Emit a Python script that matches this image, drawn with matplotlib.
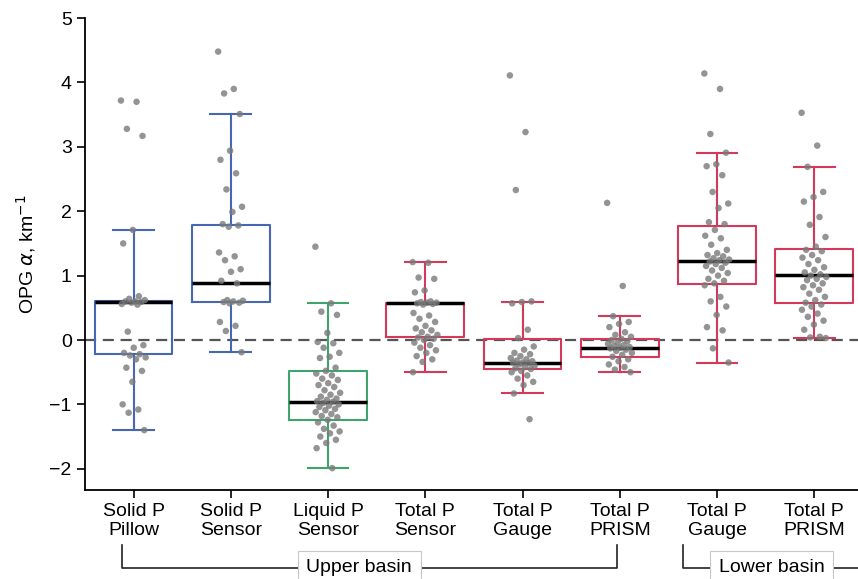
import matplotlib
matplotlib.use("Agg")
import matplotlib.pyplot as plt
import matplotlib.transforms as mtransforms
import numpy as np

plt.rcParams['font.family'] = ['Liberation Sans', 'DejaVu Sans']

# categories (two-line tick labels)
labels = ["Solid P\nPillow", "Solid P\nSensor", "Liquid P\nSensor", "Total P\nSensor",
          "Total P\nGauge", "Total P\nPRISM", "Total P\nGauge", "Total P\nPRISM"]

# box statistics
q1s = [-0.21, 0.59, -1.24, 0.04, -0.455, -0.26, 0.87, 0.57]
meds = [0.59, 0.89, -0.96, 0.58, -0.35, -0.125, 1.23, 1.01]
q3s = [0.60, 1.79, -0.48, 0.58, 0.01, 0.01, 1.77, 1.42]
whislo = [-1.40, -0.19, -1.99, -0.50, -0.83, -0.50, -0.35, 0.03]
whishi = [1.71, 3.51, 0.57, 1.21, 0.59, 0.37, 2.91, 2.69]

# individual OPG values per group
g0 = [3.72, 3.70, 3.28, 3.17, 1.71, 1.50, 0.68, 0.64, 0.62, 0.60, 0.60, 0.59, 0.58, 0.56,
      0.55, 0.13, -0.08, -0.12, -0.20, -0.22, -0.24, -0.27, -0.30, -0.43, -0.48, -0.65,
      -1.0, -1.08, -1.13, -1.4]
g1 = [4.48, 3.90, 3.83, 3.51, 2.94, 2.80, 2.59, 2.34, 2.07, 1.99, 1.80, 1.78, 1.76, 1.36,
      1.30, 1.24, 1.10, 1.06, 0.92, 0.88, 0.62, 0.61, 0.60, 0.59, 0.58, 0.57, 0.28, 0.22,
      0.14, -0.19]
g2 = [1.45, 0.57, 0.44, 0.39, 0.11, -0.03, -0.05, -0.12, -0.20, -0.26, -0.28, -0.43, -0.48,
      -0.52, -0.55, -0.60, -0.62, -0.67, -0.70, -0.73, -0.78, -0.82, -0.85, -0.88, -0.91,
      -0.93, -0.95, -0.96, -0.98, -1.0, -1.02, -1.04, -1.07, -1.09, -1.12, -1.15, -1.18,
      -1.20, -1.24, -1.28, -1.33, -1.38, -1.42, -1.45, -1.50, -1.55, -1.60, -1.68, -1.99]
g3 = [1.21, 1.20, 0.97, 0.95, 0.77, 0.74, 0.60, 0.59, 0.58, 0.58, 0.57, 0.56, 0.55, 0.42,
      0.38, 0.33, 0.28, 0.22, 0.18, 0.15, 0.12, 0.08, 0.05, 0.04, 0.02, 0.0, -0.04, -0.08,
      -0.12, -0.16, -0.2, -0.25, -0.3, -0.34, -0.5]
g4 = [4.11, 3.23, 2.33, 0.60, 0.59, 0.57, 0.16, 0.03, -0.10, -0.15, -0.20, -0.22, -0.25,
      -0.28, -0.30, -0.32, -0.33, -0.35, -0.35, -0.36, -0.38, -0.40, -0.42, -0.44, -0.45,
      -0.48, -0.50, -0.55, -0.60, -0.65, -0.70, -0.83, -1.23]
g5 = [2.13, 0.84, 0.37, 0.28, 0.25, 0.20, 0.12, 0.08, 0.05, 0.02, 0.0, -0.02, -0.04, -0.06,
      -0.08, -0.09, -0.11, -0.12, -0.13, -0.15, -0.17, -0.20, -0.23, -0.26, -0.30, -0.33,
      -0.38, -0.42, -0.46, -0.50]
g6 = [4.14, 3.90, 3.20, 2.91, 2.73, 2.70, 2.56, 2.30, 2.12, 2.05, 1.83, 1.80, 1.71, 1.62,
      1.58, 1.48, 1.40, 1.35, 1.32, 1.30, 1.27, 1.25, 1.24, 1.22, 1.20, 1.18, 1.15, 1.12,
      1.08, 1.04, 1.00, 0.95, 0.92, 0.88, 0.85, 0.67, 0.60, 0.52, 0.39, 0.20, 0.15, -0.13,
      -0.35]
g7 = [3.53, 3.02, 2.69, 2.30, 2.22, 2.15, 1.91, 1.79, 1.60, 1.45, 1.40, 1.38, 1.32, 1.28,
      1.24, 1.18, 1.13, 1.09, 1.05, 1.02, 1.00, 0.98, 0.95, 0.93, 0.88, 0.85, 0.82, 0.78,
      0.72, 0.67, 0.62, 0.58, 0.55, 0.52, 0.47, 0.41, 0.36, 0.30, 0.24, 0.16, 0.05, 0.04,
      0.03]
groups = [g0, g1, g2, g3, g4, g5, g6, g7]

blue, green, red = '#4767B5', '#3FA46C', '#D4385A'
colors = [blue, blue, green, red, red, red, red, red]

fig = plt.figure(figsize=(8.58, 5.79), dpi=100)
ax = fig.add_axes([0.099, 0.1537, 0.901, 0.815])

# zero line
ax.axhline(0, color='#555555', ls=(0, (5, 3)), lw=1.6, zorder=1)

for i in range(len(labels)):
    st = dict(med=meds[i], q1=q1s[i], q3=q3s[i], whislo=whislo[i], whishi=whishi[i], fliers=[])
    c = colors[i]
    ax.bxp([st], positions=[i], widths=0.8, capwidths=0.42, showfliers=False,
           boxprops=dict(color=c, lw=1.5),
           whiskerprops=dict(color=c, lw=1.5),
           capprops=dict(color=c, lw=1.5),
           medianprops=dict(color='black', lw=2.5),
           manage_ticks=False, zorder=2)
    vals = np.array(groups[i])
    k = np.arange(len(vals))
    jit = ((k * 0.618034) % 1.0 - 0.5) * 0.26
    ax.scatter(i + jit, vals, s=22, color='#7a7a7a', alpha=0.8, edgecolors='none', zorder=3)

ax.set_xlim(-0.5, 7.45)
ax.set_ylim(-2.33, 5.0)
ax.set_xticks(range(len(labels)))
ax.set_xticklabels(labels, fontsize=14, linespacing=1.15)
ax.set_yticks(range(-2, 6))
ax.set_yticklabels([str(v) if v >= 0 else '\u2212' + str(-v) for v in range(-2, 6)], fontsize=14)
ax.tick_params(length=6, width=1.2)
for s in ['top', 'right']:
    ax.spines[s].set_visible(False)
for s in ['left', 'bottom']:
    ax.spines[s].set_linewidth(1.3)
ax.set_ylabel(r'OPG $\alpha$, km$^{-1}$', fontsize=14, labelpad=8)

# basin brackets below the axis
trans = mtransforms.blended_transform_factory(ax.transData, ax.transAxes)
y_top, y_bot = -0.117, -0.165
ax.plot([-0.12, -0.12, 4.97, 4.97], [y_top, y_bot, y_bot, y_top], color='#222222',
        lw=1.2, transform=trans, clip_on=False)
ax.plot([5.65, 5.65, 7.6], [y_top, y_bot, y_bot], color='#222222',
        lw=1.2, transform=trans, clip_on=False)
box = dict(boxstyle='square,pad=0.45', fc='white', ec='#c8c8c8', lw=0.8)
ax.text(2.32, y_bot, 'Upper basin', transform=trans, ha='center', va='center',
        fontsize=14, bbox=box)
ax.text(6.56, y_bot, 'Lower basin', transform=trans, ha='center', va='center',
        fontsize=14, bbox=box)

fig.savefig('out.png', dpi=100)
